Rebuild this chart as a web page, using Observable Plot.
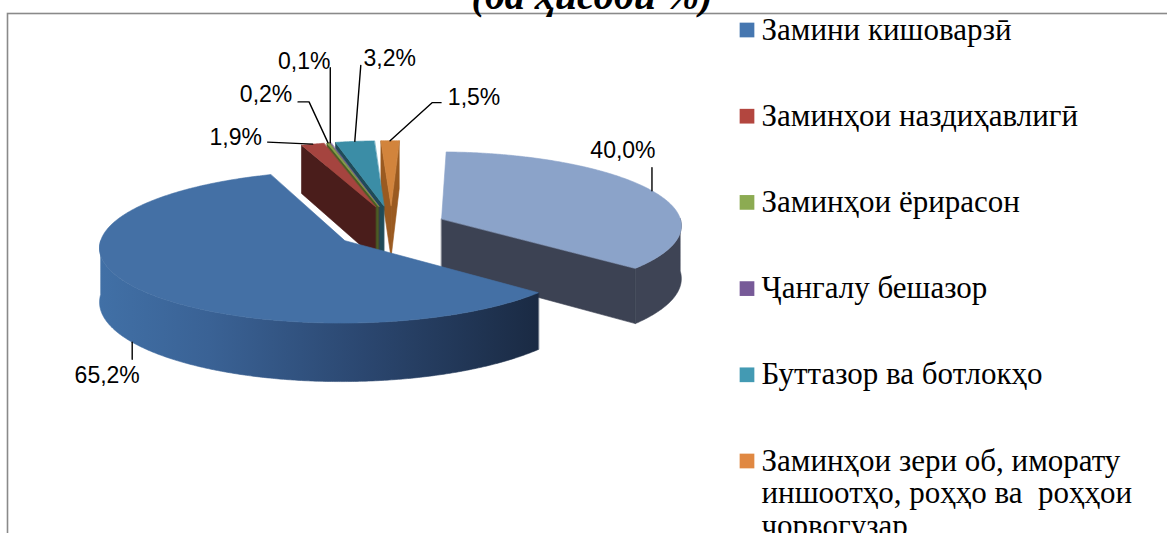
<!DOCTYPE html>
<html><head><meta charset="utf-8">
<script src="https://cdn.jsdelivr.net/npm/d3@7"></script>
<script src="https://cdn.jsdelivr.net/npm/@observablehq/plot@0.6"></script>
<style>html,body{margin:0;padding:0;background:#fff}svg{display:block}</style>
</head><body><div id="chart"></div>
<script>
// ---------- DATA ----------
const categories = [
  "Замини кишоварзӣ",
  "Заминҳои наздиҳавлигӣ",
  "Заминҳои ёрирасон",
  "Ҷангалу бешазор",
  "Буттазор ва ботлокҳо",
  "Заминҳои зери об, иморату иншоотҳо, роҳҳо ва  роҳҳои чорвогузар",
  ""
];
const values = [65.2, 1.9, 0.2, 0.1, 3.2, 1.5, 40.0];
const valueLabels = ["65,2%", "1,9%", "0,2%", "0,1%", "3,2%", "1,5%", "40,0%"];
const legendLines = [
  ["Замини кишоварзӣ"],
  ["Заминҳои наздиҳавлигӣ"],
  ["Заминҳои ёрирасон"],
  ["Ҷангалу бешазор"],
  ["Буттазор ва ботлокҳо"],
  ["Заминҳои зери об, иморату", "иншоотҳо, роҳҳо ва  роҳҳои", "чорвогузар"]
];
const titleText = "(ба ҳисоби %)";

// ---------- STYLE / LAYOUT ----------
const W = 1167, H = 533;
const topColors  = ["#4470a5", "#a5443f", "#86a14a", "#7a5c9a", "#3b8da6", "#d2843c", "#8ba3c9"];
const sideColors = ["#1d2d47", "#4a1d1b", "#4b5d25", "#3e2e52", "#1f4b58", "#9a5a20", "#3c4253"];
const wallColors = ["url(#wallBlue)", "#4a1d1b", "#4b5d25", "#3e2e52", "#1f4b58", "#9a5a20", "#3e4455"];
const legendColors = ["#4677b0", "#b3463f", "#8cab52", "#775a98", "#439ab3", "#e08842"];
const pie = {cx: 390.8, cy: 227.2, rx: 241, ry: 73.6, p: 0.08, ex: 0.23, ey: 0.306, depth: 53, start: 130.6};
// leader polyline offsets & text centre offsets relative to each slice's anchor
const leaderOffsets = [
  [[0,0],[0,17]],
  [[0,0],[-45,-2]],
  [[0,0],[-19,-41],[-30,-41]],
  [[0,0],[0,-75]],
  [[0,0],[6,-76]],
  [[0,0],[42,-38],[51,-38]],
  [[0,0],[0,-23]]
];
const textOffsets = [[-25,33],[-77,-6],[-62,-48],[-26,-81],[35,-83],[84,-43],[-29,-40]];

// ---------- GEOMETRY ----------
const rad = d => d * Math.PI / 180;
const total = d3.sum(values);
let acc = pie.start;
const slices = values.map((v, i) => {
  const a0 = acc, a1 = acc + v / total * 360; acc = a1;
  return {i, a0, a1, mid: (a0 + a1) / 2};
});
function proj(X, Y, h) {
  const s = 1 / (1 + pie.p * Y);
  return [pie.cx + pie.rx * X * s, pie.cy - pie.ry * Y * s + h * pie.depth * s];
}
function pt(sl, theta, r, h) {
  const m = rad(sl.mid);
  return proj(pie.ex * Math.sin(m) + r * Math.sin(rad(theta)),
              pie.ey * Math.cos(m) + r * Math.cos(rad(theta)), h);
}
function arc(sl, t0, t1, h) {
  const n = Math.max(1, Math.ceil(Math.abs(t1 - t0) / 0.5));
  return d3.range(n + 1).map(k => pt(sl, t0 + (t1 - t0) * k / n, 1, h));
}
const faces = [];
const order = slices.slice().sort((a, b) => Math.cos(rad(b.mid)) - Math.cos(rad(a.mid)));
for (const sl of order) {
  if (Math.cos(rad(sl.a0 - 90)) < 0)
    faces.push({pts: [pt(sl, sl.a0, 0, 0), pt(sl, sl.a0, 1, 0), pt(sl, sl.a0, 1, 1), pt(sl, sl.a0, 0, 1)], fill: sideColors[sl.i]});
  if (Math.cos(rad(sl.a1 + 90)) < 0)
    faces.push({pts: [pt(sl, sl.a1, 0, 0), pt(sl, sl.a1, 1, 0), pt(sl, sl.a1, 1, 1), pt(sl, sl.a1, 0, 1)], fill: sideColors[sl.i]});
  for (const [v0, v1] of [[90, 270], [450, 630]]) {
    const t0 = Math.max(sl.a0, v0), t1 = Math.min(sl.a1, v1);
    if (t1 > t0) faces.push({pts: [...arc(sl, t0, t1, 0), ...arc(sl, t1, t0, 1)], fill: wallColors[sl.i]});
  }
  faces.push({pts: [pt(sl, sl.a0, 0, 0), ...arc(sl, sl.a0, sl.a1, 0)], fill: topColors[sl.i]});
}

// labels
const anchors = slices.map(sl => sl.i === 0 ? pt(sl, sl.mid, 1, 1) : pt(sl, sl.mid, 1, 0));
const leaders = slices.map(sl => leaderOffsets[sl.i].map(([dx, dy]) => [anchors[sl.i][0] + dx, anchors[sl.i][1] + dy]));
const labelRows = slices.map(sl => ({x: anchors[sl.i][0] + textOffsets[sl.i][0], y: anchors[sl.i][1] + textOffsets[sl.i][1], t: valueLabels[sl.i]}));

// legend rows
const legendBase = 39, legendStep = 86.2, lineStep = 32.5;
const legendTextRows = legendLines.flatMap((lines, i) => lines.map((t, j) => ({t, x: 761, y: legendBase + i * legendStep + j * lineStep})));
const legendSwatches = legendLines.map((_, i) => ({x: 746.5, y: legendBase + i * legendStep - 9.5, c: legendColors[i]}));

function defs() {
  const d = d3.create("svg:defs");
  const g = d.append("linearGradient").attr("id", "wallBlue").attr("x1", 0).attr("x2", 1).attr("y1", 0).attr("y2", 0);
  g.append("stop").attr("offset", "0").attr("stop-color", "#4170a6");
  g.append("stop").attr("offset", "0.25").attr("stop-color", "#3a6295");
  g.append("stop").attr("offset", "0.6").attr("stop-color", "#2b4770");
  g.append("stop").attr("offset", "1").attr("stop-color", "#1a2a43");
  return d.node();
}

const marks = [
  defs,
  Plot.frame({insetTop: 13, insetLeft: 7, insetRight: -10, insetBottom: -10, stroke: "#8a8a8a", strokeWidth: 1.6}),
  ...faces.map(f => Plot.line(f.pts, {x: d => d[0], y: d => d[1], curve: "linear-closed", fill: f.fill, stroke: f.fill, strokeWidth: 0.6})),
  ...leaders.map(l => Plot.line(l, {x: d => d[0], y: d => d[1], stroke: "#000", strokeWidth: 1.4})),
  Plot.text(labelRows, {x: "x", y: "y", text: "t", fontSize: 23, fontFamily: "Liberation Sans", fill: "#000"}),
  Plot.dot(legendSwatches, {x: "x", y: "y", fill: "c", symbol: "square", r: 8.3, stroke: null}),
  Plot.text(legendTextRows, {x: "x", y: "y", text: "t", textAnchor: "start", lineAnchor: "bottom", fontSize: 31, fontFamily: "Liberation Serif", fill: "#000"}),
  Plot.text([titleText], {frameAnchor: "top", dx: 8, dy: 8, lineAnchor: "bottom", text: d => d, fontSize: 40, fontWeight: "bold", fontStyle: "italic", fontFamily: "Liberation Serif", fill: "#000"})
];

const chart = Plot.plot({
  width: W, height: H,
  margin: 0,
  x: {domain: [0, W], range: [0, W], axis: null},
  y: {domain: [0, H], range: [0, H], axis: null},
  color: {type: "identity"},
  style: {background: "#fff", overflow: "hidden"},
  marks
});
document.getElementById("chart").appendChild(chart);
</script>
</body></html>
